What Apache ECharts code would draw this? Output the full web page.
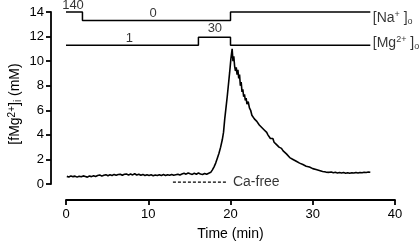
<!DOCTYPE html>
<html>
<head>
<meta charset="utf-8">
<script src="https://cdn.jsdelivr.net/npm/echarts@6/dist/echarts.min.js"></script>
<style>html,body{margin:0;padding:0;background:#fff;}#c{width:420px;height:242px;}</style>
</head>
<body>
<div id="c"></div>
<script>
// Time (min) and free Mg2+ (mM) trace
const times = [0.1,0.35,0.6,0.85,1.1,1.35,1.6,1.85,2.1,2.35,2.6,2.85,3.1,3.35,3.6,3.85,4.1,4.35,4.6,4.85,5.1,5.35,5.6,5.85,6.1,6.35,6.6,6.85,7.1,7.35,7.6,7.85,8.1,8.35,8.6,8.85,9.1,9.35,9.6,9.85,10.1,10.35,10.6,10.85,11.1,11.35,11.6,11.85,12.1,12.35,12.6,12.85,13.1,13.35,13.6,13.85,14.1,14.35,14.6,14.85,15.1,15.35,15.6,15.85,16.1,16.35,16.6,16.85,17.1,17.35,
17.6,17.8,18.0,18.2,18.4,18.6,18.8,19.0,19.15,19.3,19.45,19.6,19.75,19.9,20.05,20.2,
20.3,20.4,20.5,20.6,20.7,20.8,20.9,21.0,21.1,21.2,21.3,21.4,21.5,21.6,21.7,21.8,21.9,22.0,22.15,22.3,22.45,22.6,22.75,22.9,23.05,23.2,23.35,23.5,23.65,23.8,23.95,24.1,24.25,24.4,24.55,24.7,24.85,25.0,25.15,25.3,25.45,25.6,25.75,25.9,26.05,26.2,26.4,26.6,26.8,27.0,27.2,27.4,27.6,27.8,28.0,28.2,28.4,28.6,28.8,29.0,29.2,29.4,29.6,29.8,30.0,30.2,30.4,30.6,30.8,31.0,31.2,31.4,31.6,31.8,32.0,32.25,32.5,32.75,33.0,33.25,33.5,33.75,34.0,34.25,34.5,34.75,35.0,35.25,35.5,35.75,36.0,36.25,36.5,36.75,37.0];
const fmg = [0.62,0.57,0.66,0.60,0.64,0.56,0.63,0.59,0.66,0.61,0.56,0.65,0.60,0.67,0.61,0.69,0.74,0.64,0.72,0.76,0.67,0.75,0.69,0.78,0.71,0.77,0.80,0.71,0.79,0.82,0.72,0.81,0.74,0.83,0.73,0.80,0.71,0.78,0.69,0.76,0.70,0.75,0.68,0.74,0.69,0.76,0.70,0.77,0.69,0.75,0.71,0.78,0.72,0.76,0.80,0.73,0.82,0.88,0.80,0.90,0.83,0.78,0.87,0.80,0.89,0.81,0.78,0.86,0.80,0.88,
0.95,1.15,1.4,1.7,2.1,2.5,3.0,3.6,4.2,5.3,6.2,7.1,8.1,9.1,10.2,11.0,
10.0,10.4,9.6,9.2,9.5,8.9,9.3,8.6,8.9,8.0,8.3,7.5,7.7,7.1,7.3,6.8,7.0,6.5,6.7,6.2,6.0,5.6,5.7,5.3,5.4,5.1,5.2,4.8,4.9,4.6,4.7,4.4,4.5,4.2,4.0,4.1,3.7,3.6,3.7,3.4,3.3,3.2,3.1,3.0,2.85,2.9,2.7,2.55,2.45,2.3,2.15,2.1,2.0,1.95,1.85,1.75,1.7,1.62,1.58,1.5,1.45,1.4,1.38,1.3,1.25,1.2,1.18,1.12,1.1,1.05,1.02,1.0,0.97,1.0,0.95,0.97,0.92,0.95,0.90,0.94,0.89,0.93,0.88,0.92,0.87,0.91,0.89,0.93,0.90,0.94,0.91,0.95,0.93,0.97,0.95];

// Solution protocol bars (time, level on y scale)
const naTimes  = [0, 2, 2, 20, 20, 37];
const naLevels = [14, 14, 13.3, 13.3, 14, 14];
const mgTimes  = [0, 16.1, 16.1, 20, 20, 37];
const mgLevels = [11.3, 11.3, 11.95, 11.95, 11.3, 11.3];
const caFreeTimes = [13, 19.5];
const caFreeLevel = 0.15;

const xTicks = [0, 10, 20, 30, 40];
const yTicks = [0, 2, 4, 6, 8, 10, 12, 14];

// Annotation labels: [time, level, text]
const centerLabels = [[0.85, 14.57, '140'], [10.6, 13.9, '0'], [7.7, 11.88, '1'], [18.1, 12.7, '30']];
const leftLabels = [[37.3, 13.5, '[Na{sup|+} ]{sub|o}'], [37.3, 11.45, '[Mg{sup|2+} ]{sub|o}'], [20.3, 0.15, 'Ca-free']];

const zip = (a, b) => a.map((v, i) => [v, b[i]]);
const font = 'Liberation Sans, Arial, sans-serif';
const richSS = {
  sup: {fontSize: 9, verticalAlign: 'top', lineHeight: 9, fontFamily: font, color: '#000'},
  sub: {fontSize: 9, verticalAlign: 'bottom', lineHeight: 9, fontFamily: font, color: '#000'}
};

const chart = echarts.init(document.getElementById('c'), null, {renderer: 'canvas'});
chart.setOption({
  animation: false,
  backgroundColor: '#fff',
  grid: {left: 66, right: 25, top: 12, bottom: 58, containLabel: false, outerBoundsMode: 'none'},
  xAxis: {
    type: 'value', min: xTicks[0], max: xTicks[xTicks.length - 1], interval: 10,
    offset: 16,
    axisLine: {show: true, onZero: false, lineStyle: {color: '#000', width: 1.8}},
    axisTick: {show: true, length: 5, lineStyle: {color: '#000', width: 1.8}},
    axisLabel: {color: '#000', fontSize: 13, fontFamily: font, margin: 8},
    splitLine: {show: false},
    name: 'Time (min)', nameLocation: 'middle', nameGap: 27,
    nameTextStyle: {color: '#000', fontSize: 14, fontFamily: font}
  },
  yAxis: {
    type: 'value', min: yTicks[0], max: yTicks[yTicks.length - 1], interval: 2,
    offset: 15,
    axisLine: {show: true, onZero: false, lineStyle: {color: '#000', width: 1.8}},
    axisTick: {show: true, length: 5, lineStyle: {color: '#000', width: 1.8}},
    axisLabel: {color: '#000', fontSize: 13, fontFamily: font, margin: 7},
    splitLine: {show: false},
    name: '[fMg{sup|2+}]{sub|i} (mM)', nameLocation: 'middle', nameGap: 28, nameRotate: 90,
    nameMoveOverlap: false,
    nameTextStyle: {color: '#000', fontSize: 14, fontFamily: font, lineHeight: 16, padding: [0, 12, 0, 0], rich: {
      sup: {fontSize: 10, verticalAlign: 'top', lineHeight: 10, fontFamily: font, color: '#000'},
      sub: {fontSize: 10, verticalAlign: 'bottom', lineHeight: 10, fontFamily: font, color: '#000'}
    }}
  },
  series: [
    {type: 'line', data: zip(times, fmg), showSymbol: false, symbol: 'none',
     lineStyle: {color: '#000', width: 1.6}, clip: false},
    {type: 'line', data: zip(naTimes, naLevels), symbol: 'none', lineStyle: {color: '#000', width: 1.5}, clip: false},
    {type: 'line', data: zip(mgTimes, mgLevels), symbol: 'none', lineStyle: {color: '#000', width: 1.5}, clip: false},
    {type: 'line', data: caFreeTimes.map(t => [t, caFreeLevel]), symbol: 'none',
     lineStyle: {color: '#000', width: 1.3, type: [3, 2]}, clip: false},
    {type: 'scatter', symbolSize: 0, clip: false, silent: true,
     data: centerLabels.map(d => ({value: [d[0], d[1]], name: d[2]})),
     label: {show: true, position: 'inside', formatter: p => p.name, color: '#000', fontSize: 13, fontFamily: font}},
    {type: 'scatter', symbolSize: 0, clip: false, silent: true,
     data: leftLabels.map(d => ({value: [d[0], d[1]], name: d[2]})),
     label: {show: true, position: 'right', distance: 0, formatter: p => p.name, color: '#000', fontSize: 14,
       fontFamily: font, lineHeight: 16, rich: richSS}}
  ]
});
</script>
</body>
</html>
